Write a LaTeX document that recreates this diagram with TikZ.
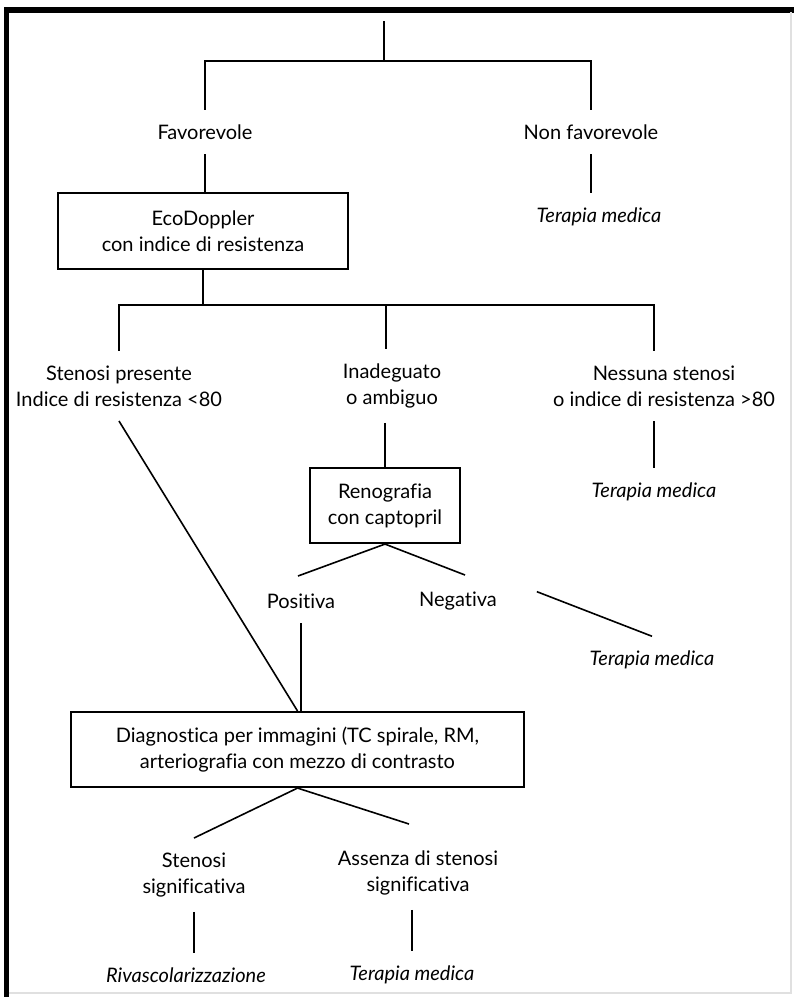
\documentclass[tikz,border=0pt]{standalone}
\usepackage{fontspec}
\setmainfont{Lato}[Ligatures=NoCommon]

\begin{document}
\begin{tikzpicture}[x = 0.75pt, y = -0.75pt]
            \tikzset{choice/.style = {align=center, font=\fontsize{15}{19.5}\selectfont, inner sep=0pt, outer xsep=2pt, outer ysep=11pt}}
            \tikzset{outcome/.style = {choice, font=\fontsize{15}{19.5}\selectfont\itshape}}
            \tikzset{test/.style = {shape=rectangle, draw, line width=1.6pt, align=center, inner sep=0pt, font=\fontsize{15}{19.5}\selectfont}}
            \tikzset{edge/.style = {line width=1.2pt}}
            \tikzset{frame/.style = {line width=4.5pt}}

            \useasboundingbox (0, 0) rectangle (794, 997);
            \draw[frame] (4, 10) -- (794, 10);
            \draw[frame, line width=3.75pt] (6.5, 8) -- (6.5, 997);
            \draw[black!12, line width=0.8pt] (791, 12) -- (791, 993) -- (9, 993);

            \node[choice] (fav) at (205, 132) {Favorevole};
            \node[choice] (nfav) at (591, 132) {Non favorevole};
            \node[outcome] (tm1) at (599, 217) {Terapia medica};

            \node[test, minimum width=217.5pt, minimum height=57pt] (eco) at (203, 231) {EcoDoppler\\con indice di resistenza};

            \node[choice] (sten) at (119, 386) {Stenosi presente\\Indice di resistenza <80};
            \node[choice] (inad) at (392, 386) {Inadeguato\\o ambiguo};
            \node[choice] (ness) at (664, 386) {Nessuna stenosi\\o indice di resistenza >80};
            \node[outcome] (tm2) at (654, 492) {Terapia medica};

            \node[test, minimum width=112.5pt, minimum height=56.25pt] (reno) at (385, 505.5) {Renografia\\con captopril};

            \node[choice] (pos) at (301, 601) {Positiva};
            \node[choice] (neg) at (458, 601) {Negativa};
            \node[outcome] (tm3) at (652, 660) {Terapia medica};

            \node[test, minimum width=339.75pt, minimum height=56.25pt] (diag) at (297.5, 749.5) {Diagnostica per immagini (TC spirale, RM,\\arteriografia con mezzo di contrasto};

            \node[choice] (ssig) at (194, 875) {Stenosi\\significativa};
            \node[choice] (asig) at (418, 873) {Assenza di stenosi\\significativa};
            \node[outcome] (riv) at (186, 975) {Rivascolarizzazione};
            \node[outcome] (tm4) at (412, 975) {Terapia medica};

            \coordinate (top) at (384, 21);
            \coordinate (fork1) at (384, 61);
            \coordinate (fork2) at (386, 305);
            \coordinate (renoL) at (298, 576);
            \coordinate (renoR) at (465, 575);
            \coordinate (diagL) at (194, 838);
            \coordinate (diagR) at (409, 824);

            \draw[edge] (top) to (fork1);
            \draw[edge] (fav.north) |- (fork1) -| (nfav.north);
            \draw[edge] (fav.south) to (fav.south |- eco.north);
            \draw[edge] (nfav.south) to (nfav.south |- tm1.north);

            \draw[edge] (eco.south) to (eco.south |- fork2);
            \draw[edge] (sten.north) |- (fork2) -| (ness.north -| tm2);
            \draw[edge] (fork2) to (inad.north -| fork2);
            \draw[edge] (tm2.north |- ness.south) to (tm2.north);

            \draw[edge] (sten.south) to (diag.north);
            \draw[edge] (inad.south -| reno.north) to (reno.north);
            \draw[edge] (reno.south) to (renoL);
            \draw[edge] (reno.south) to (renoR);
            \draw[edge, shorten <=30pt] (neg.north east) to (tm3.north);
            \draw[edge] (pos.south) to (pos.south |- diag.north);

            \draw[edge] (diag.south) to (diagL);
            \draw[edge] (diag.south) to (diagR);
            \draw[edge] (ssig.south) to (ssig.south |- riv.north);
            \draw[edge] (tm4.north |- asig.south) to (tm4.north);
        \end{tikzpicture}
\end{document}
